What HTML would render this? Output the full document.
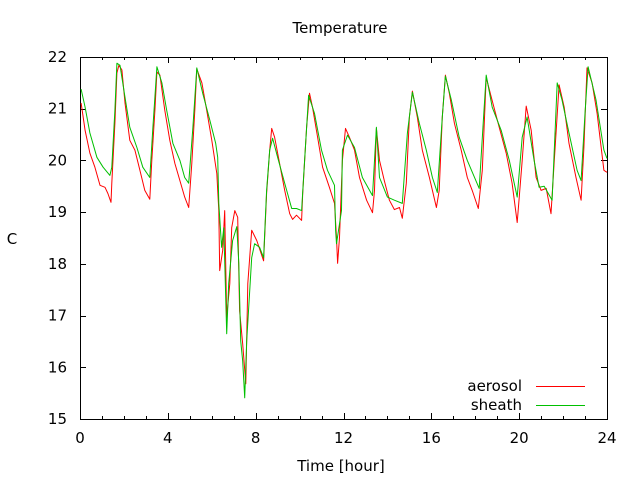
<!DOCTYPE html>
<html><head><meta charset="utf-8"><style>
html,body{margin:0;padding:0;background:#fff}
svg{display:block;font-family:"DejaVu Sans","Liberation Sans",sans-serif;font-size:15px}
</style></head><body>
<svg id="chart" width="640" height="480" xmlns="http://www.w3.org/2000/svg">
<text x="340" y="33" text-anchor="middle" fill="#000">Temperature</text>
<text x="12" y="244" text-anchor="middle" fill="#000">C</text>
<text x="341" y="471" text-anchor="middle" fill="#000">Time [hour]</text>
<g id="axes"></g>
<g id="series"></g>
<g>
<text x="522" y="391" text-anchor="end">aerosol</text>
<line x1="536" y1="386.5" x2="585" y2="386.5" stroke="#ff0000" stroke-width="1"/>
<text x="522" y="410" text-anchor="end">sheath</text>
<line x1="536" y1="405.5" x2="585" y2="405.5" stroke="#00c000" stroke-width="1"/>
</g>
</svg>
<script>
const xTicks = [0,4,8,12,16,20,24];
const yTicks = [15,16,17,18,19,20,21,22];
const aerosolT = [0.05,0.23,0.45,0.68,0.91,1.14,1.27,1.41,1.45,1.59,1.68,1.77,1.91,2.05,2.27,2.5,2.73,2.95,3.18,3.27,3.41,3.5,3.64,3.86,4.09,4.32,4.55,4.77,4.95,5.09,5.23,5.32,5.55,5.77,6.0,6.23,6.32,6.36,6.5,6.59,6.68,6.82,6.91,7.05,7.18,7.27,7.41,7.55,7.64,7.82,8.05,8.36,8.5,8.64,8.73,8.86,9.09,9.32,9.55,9.68,9.86,10.09,10.14,10.32,10.45,10.59,10.82,11.05,11.36,11.59,11.68,11.73,11.82,11.95,12.09,12.27,12.5,12.73,13.05,13.32,13.41,13.5,13.64,13.86,14.09,14.32,14.55,14.68,14.86,15.0,15.14,15.36,15.59,15.91,16.23,16.36,16.5,16.64,16.82,17.05,17.36,17.64,17.86,18.14,18.32,18.5,18.73,19.09,19.41,19.68,19.91,20.14,20.32,20.55,20.77,21.0,21.23,21.45,21.59,21.82,22.05,22.27,22.59,22.82,22.95,23.09,23.32,23.55,23.86,24.0];
const aerosolV = [21.11,20.58,20.14,19.87,19.52,19.48,19.36,19.19,19.56,20.72,21.69,21.84,21.75,21.11,20.39,20.2,19.81,19.42,19.25,20.0,20.97,21.71,21.65,20.97,20.39,19.94,19.61,19.29,19.09,19.94,20.97,21.77,21.5,20.97,20.39,19.75,19.03,17.87,18.26,19.03,16.96,17.62,18.7,19.03,18.9,17.09,16.45,15.68,17.62,18.65,18.45,18.06,19.36,20.2,20.62,20.45,19.94,19.42,18.97,18.86,18.94,18.84,19.36,20.64,21.3,21.03,20.45,19.87,19.48,19.17,18.51,18.01,18.51,20.0,20.62,20.45,20.2,19.67,19.23,18.99,19.42,20.62,20.0,19.61,19.23,19.05,19.09,18.88,19.56,20.84,21.34,20.84,20.2,19.67,19.09,19.42,20.84,21.65,21.3,20.72,20.2,19.67,19.42,19.07,19.81,21.61,21.22,20.64,20.14,19.56,18.8,20.0,21.05,20.58,19.67,19.42,19.46,18.97,19.94,21.46,21.03,20.33,19.67,19.23,20.25,21.79,21.5,20.91,19.81,19.77];
const sheathT = [0.05,0.23,0.45,0.77,1.05,1.36,1.45,1.59,1.68,1.82,2.05,2.27,2.59,2.86,3.18,3.32,3.5,3.73,3.95,4.23,4.55,4.77,4.95,5.14,5.32,5.59,5.91,6.18,6.27,6.32,6.45,6.55,6.68,6.77,6.95,7.14,7.23,7.32,7.41,7.5,7.59,7.82,7.95,8.18,8.36,8.5,8.64,8.77,9.0,9.32,9.64,9.86,10.09,10.23,10.41,10.68,11.0,11.27,11.59,11.64,11.68,11.91,11.95,12.18,12.5,12.86,13.32,13.5,13.64,14.0,14.32,14.68,14.91,15.14,15.45,15.77,16.05,16.27,16.5,16.64,16.91,17.27,17.64,18.18,18.36,18.5,18.77,19.18,19.55,19.91,20.14,20.36,20.68,20.91,21.14,21.5,21.73,21.95,22.27,22.64,22.82,23.0,23.14,23.5,23.86,24.0];
const sheathV = [21.38,21.03,20.53,20.06,19.87,19.71,19.87,20.97,21.88,21.84,21.22,20.64,20.25,19.87,19.67,20.64,21.81,21.5,20.97,20.33,20.0,19.67,19.56,20.64,21.79,21.3,20.78,20.33,20.06,19.17,18.32,18.7,16.65,17.62,18.45,18.72,18.01,16.51,16.12,15.41,16.51,18.12,18.39,18.32,18.12,19.42,20.2,20.43,20.06,19.56,19.07,19.07,19.03,20.0,21.26,20.91,20.2,19.81,19.52,18.65,18.39,19.03,20.2,20.49,20.25,19.67,19.32,20.64,19.67,19.29,19.23,19.17,20.53,21.32,20.72,20.2,19.67,19.38,20.84,21.63,21.17,20.45,20.0,19.46,20.72,21.65,21.03,20.58,20.0,19.29,20.45,20.84,20.0,19.48,19.5,19.23,21.5,21.17,20.53,19.81,19.61,20.91,21.81,21.17,20.2,20.04];

const L=80,R=607,T=57,B=419;
function xs(t){return L+(t-0)/(24-0)*(R-L);}
function ys(v){return B-(v-15)/(22-15)*(B-T);}
const NS="http://www.w3.org/2000/svg";
const axes=document.getElementById('axes');
function mk(tag,attrs,parent){const e=document.createElementNS(NS,tag);for(const k in attrs)e.setAttribute(k,attrs[k]);parent.appendChild(e);return e;}
const frame=mk('rect',{x:L+0.5,y:T+0.5,width:R-L,height:B-T,fill:'none',stroke:'#000','stroke-width':1},axes);


for(let h=0;h<=24;h++){
  const x=Math.round(xs(h))+0.5;
  const len=(h%4===0)?6:3;
  const t1=mk('line',{x1:x,y1:B,x2:x,y2:B-len,stroke:'#000'},axes);
  
  
  const t2=mk('line',{x1:x,y1:T,x2:x,y2:T+len,stroke:'#000'},axes);
  
  
}
xTicks.forEach(v=>{
  const t=mk('text',{x:xs(v),y:443,'text-anchor':'middle',fill:'#000'},axes);
  t.textContent=v;
  
  
});
yTicks.forEach(v=>{
  const y=Math.round(ys(v))+0.5;
  const a=mk('line',{x1:L,y1:y,x2:L+6,y2:y,stroke:'#000'},axes);
  
  
  const b=mk('line',{x1:R,y1:y,x2:R-6,y2:y,stroke:'#000'},axes);
  
  
  const t=mk('text',{x:67,y:ys(v)+5,'text-anchor':'end',fill:'#000'},axes);
  t.textContent=v;
  
  
});
const series=document.getElementById('series');
function draw(T_,V_,color,name){
  const d=T_.map((t,i)=>(i?'L':'M')+xs(t).toFixed(1)+' '+ys(V_[i]).toFixed(1)).join(' ');
  const p=mk('path',{d:d,fill:'none',stroke:color,'stroke-width':1,'stroke-linejoin':'round'},series);
  
  
}
draw(aerosolT,aerosolV,'#ff0000','aerosol-line');
draw(sheathT,sheathV,'#00c000','sheath-line');
</script>
</body></html>
